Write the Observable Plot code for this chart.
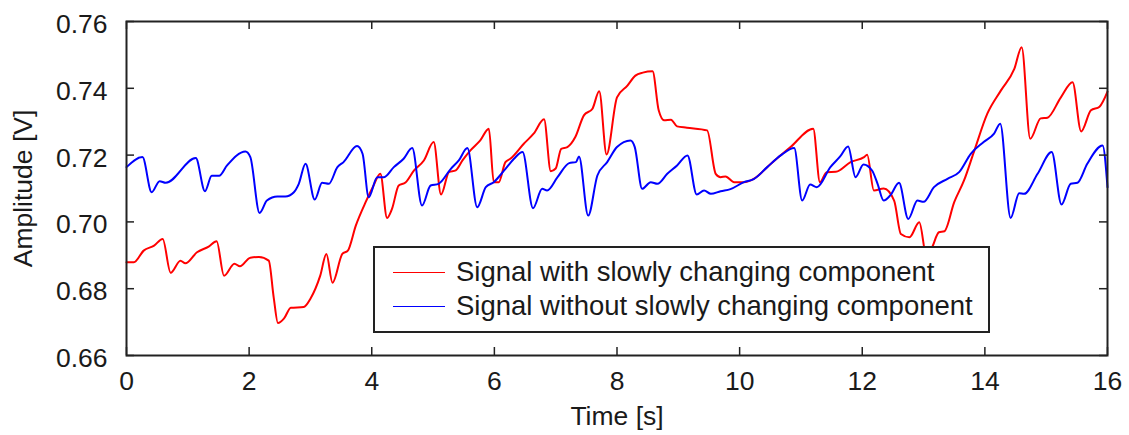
<!DOCTYPE html>
<html>
<head>
<meta charset="utf-8">
<script src="https://cdn.jsdelivr.net/npm/d3@7"></script>
<script src="https://cdn.jsdelivr.net/npm/@observablehq/plot@0.6"></script>
<style>
  html, body { margin: 0; padding: 0; background: #fff; }
  #wrap { position: relative; width: 1129px; height: 435px; font-family: "Liberation Sans", Arial, sans-serif; }
  #legend { position: absolute; left: 373px; top: 246px; width: 617px; height: 87px; box-sizing: border-box;
    border: 2px solid #222; background: #fff; color: #1a1a1a; font-size: 27.5px; }
  .row { position: absolute; left: 0; height: 30px; display: flex; align-items: center; white-space: nowrap; }
  .sw { display: inline-block; width: 52px; height: 0; border-top: 1.6px solid; margin-left: 18px; margin-right: 11px; }
</style>
</head>
<body>
<div id="wrap"></div>
<script>
// ---- data ----
const redTime = [0.00,0.12,0.28,0.45,0.59,0.72,0.88,0.96,1.15,1.34,1.47,1.59,1.76,1.85,2.02,2.16,2.32,2.40,2.47,2.57,2.68,2.89,3.00,3.16,3.26,3.36,3.52,3.61,3.74,3.90,4.02,4.14,4.25,4.33,4.44,4.55,4.69,4.85,5.01,5.13,5.26,5.37,5.48,5.61,5.77,5.91,5.99,6.07,6.18,6.26,6.48,6.64,6.81,6.92,7.00,7.09,7.19,7.32,7.46,7.60,7.71,7.83,8.00,8.17,8.30,8.42,8.58,8.68,8.77,8.88,8.98,9.14,9.47,9.61,9.69,9.77,9.91,10.07,10.23,10.51,10.83,11.20,11.31,11.42,11.57,11.81,12.03,12.08,12.19,12.35,12.52,12.63,12.77,12.93,13.05,13.14,13.25,13.34,13.50,13.66,13.82,14.04,14.26,14.48,14.60,14.74,14.91,15.02,15.24,15.43,15.57,15.73,15.87,16.00];
const redValue = [0.6879,0.6879,0.6914,0.6929,0.6949,0.6848,0.6884,0.6876,0.6909,0.6926,0.6942,0.6839,0.6875,0.6867,0.6893,0.6895,0.6884,0.6775,0.6697,0.6711,0.6743,0.6745,0.6770,0.6839,0.6904,0.6818,0.6904,0.6914,0.6989,0.7059,0.7105,0.7144,0.7012,0.7039,0.7109,0.7118,0.7154,0.7184,0.7239,0.7082,0.7149,0.7154,0.7184,0.7214,0.7244,0.7279,0.7119,0.7119,0.7179,0.7189,0.7234,0.7264,0.7307,0.7152,0.7160,0.7219,0.7224,0.7254,0.7319,0.7339,0.7391,0.7202,0.7373,0.7408,0.7438,0.7447,0.7451,0.7334,0.7304,0.7306,0.7286,0.7282,0.7274,0.7144,0.7134,0.7136,0.7119,0.7119,0.7129,0.7174,0.7224,0.7279,0.7119,0.7149,0.7150,0.7179,0.7194,0.7201,0.7094,0.7100,0.7064,0.6964,0.6954,0.6999,0.6895,0.6924,0.6969,0.6972,0.7059,0.7124,0.7209,0.7324,0.7393,0.7458,0.7523,0.7249,0.7310,0.7312,0.7373,0.7418,0.7271,0.7334,0.7345,0.7390];
const blueTime = [0.00,0.26,0.41,0.54,0.64,1.13,1.28,1.39,1.51,1.64,1.94,2.02,2.17,2.29,2.46,2.59,2.73,2.81,2.92,3.07,3.19,3.30,3.44,3.54,3.76,3.85,3.95,4.09,4.20,4.36,4.52,4.66,4.82,4.96,5.09,5.29,5.42,5.56,5.72,5.86,5.99,6.16,6.32,6.46,6.63,6.78,6.86,7.03,7.22,7.33,7.38,7.53,7.68,7.84,8.00,8.22,8.29,8.41,8.55,8.66,8.82,8.98,9.15,9.30,9.42,9.53,9.69,9.85,10.07,10.23,10.45,10.67,10.89,11.02,11.15,11.26,11.48,11.64,11.77,11.89,12.02,12.16,12.25,12.35,12.46,12.60,12.75,12.90,13.00,13.17,13.39,13.58,13.77,13.98,14.15,14.25,14.42,14.56,14.64,14.86,15.09,15.25,15.40,15.51,15.67,15.92,16.00];
const blueValue = [0.7164,0.7194,0.7089,0.7122,0.7117,0.7191,0.7092,0.7138,0.7138,0.7169,0.7211,0.7194,0.7027,0.7064,0.7076,0.7076,0.7089,0.7114,0.7174,0.7067,0.7117,0.7114,0.7164,0.7179,0.7227,0.7204,0.7074,0.7134,0.7134,0.7164,0.7189,0.7221,0.7049,0.7109,0.7114,0.7159,0.7184,0.7221,0.7044,0.7104,0.7119,0.7154,0.7189,0.7209,0.7041,0.7099,0.7094,0.7134,0.7176,0.7179,0.7196,0.7019,0.7139,0.7179,0.7224,0.7244,0.7224,0.7099,0.7119,0.7114,0.7144,0.7169,0.7199,0.7082,0.7094,0.7084,0.7092,0.7098,0.7119,0.7128,0.7164,0.7199,0.7221,0.7064,0.7112,0.7104,0.7164,0.7196,0.7226,0.7134,0.7172,0.7154,0.7114,0.7064,0.7080,0.7117,0.7009,0.7064,0.7060,0.7104,0.7129,0.7149,0.7204,0.7239,0.7264,0.7294,0.7012,0.7086,0.7084,0.7144,0.7209,0.7052,0.7114,0.7117,0.7174,0.7229,0.7104];
const xTicks = [0, 2, 4, 6, 8, 10, 12, 14, 16];
const yTicks = [0.66, 0.68, 0.70, 0.72, 0.74, 0.76];
const seriesNames = ["Signal with slowly changing component", "Signal without slowly changing component"];
const seriesColors = ["#ff0000", "#0000ff"];
const xLabel = "Time [s]";
const yLabel = "Amplitude [V]";

const red = redTime.map((t, i) => ({t, v: redValue[i]}));
const blue = blueTime.map((t, i) => ({t, v: blueValue[i]}));

const W = 1129, H = 435, mL = 126, mR = 22, mT = 21, mB = 80;
const fw = W - mL - mR, fh = H - mT - mB, tk = 8;

const chart = Plot.plot({
  width: W, height: H,
  marginLeft: mL, marginRight: mR, marginTop: mT, marginBottom: mB,
  style: {fontFamily: '"Liberation Sans", Arial, sans-serif', fontSize: "26.5px", color: "#1a1a1a", background: "#fff"},
  x: {domain: [0, 16]},
  y: {domain: [0.66, 0.76]},
  marks: [
    Plot.line(red, {x: "t", y: "v", stroke: seriesColors[0], strokeWidth: 2, curve: "monotone-x"}),
    Plot.line(blue, {x: "t", y: "v", stroke: seriesColors[1], strokeWidth: 2, curve: "monotone-x"}),
    // inward ticks on all four sides
    Plot.tickX(xTicks, {x: d => d, stroke: "#222", strokeWidth: 1.5, insetTop: fh - tk}),
    Plot.tickX(xTicks, {x: d => d, stroke: "#222", strokeWidth: 1.5, insetBottom: fh - tk}),
    Plot.tickY(yTicks, {y: d => d, stroke: "#222", strokeWidth: 1.5, insetRight: fw - tk}),
    Plot.tickY(yTicks, {y: d => d, stroke: "#222", strokeWidth: 1.5, insetLeft: fw - tk}),
    Plot.frame({stroke: "#222", strokeWidth: 2}),
    Plot.axisX({ticks: xTicks, tickSize: 0, tickPadding: 16, label: null, tickFormat: d => String(d)}),
    Plot.axisY({ticks: yTicks, tickSize: 0, tickPadding: 19, label: null, tickFormat: d3.format(".2f"), dy: 3}),
    Plot.text([xLabel], {frameAnchor: "bottom", text: d => d, dy: 61, lineAnchor: "middle", textAnchor: "middle"}),
    Plot.text([yLabel], {frameAnchor: "left", text: d => d, rotate: -90, dx: -103, lineAnchor: "middle", textAnchor: "middle"})
  ]
});

const wrap = document.getElementById("wrap");
wrap.appendChild(chart);

const legend = document.createElement("div");
legend.id = "legend";
seriesNames.forEach((name, i) => {
  const row = document.createElement("div");
  row.className = "row";
  row.style.top = (i === 0 ? 9 : 43) + "px";
  const sw = document.createElement("span");
  sw.className = "sw";
  sw.style.borderTopColor = seriesColors[i];
  const tx = document.createElement("span");
  tx.textContent = name;
  row.appendChild(sw);
  row.appendChild(tx);
  legend.appendChild(row);
});
wrap.appendChild(legend);
</script>
</body>
</html>
